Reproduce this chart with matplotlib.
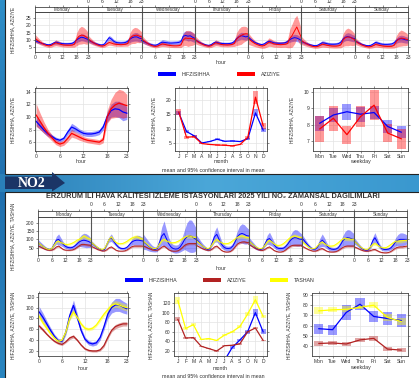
import numpy as np
import matplotlib
matplotlib.use("Agg")
import matplotlib.pyplot as plt
from matplotlib.patches import Rectangle, Polygon

plt.rcParams['font.family'] = ['Liberation Sans', 'DejaVu Sans']

# ---------------- DATA ----------------
days = ["Monday", "Tuesday", "Wednesday", "Thursday", "Friday", "Saturday", "Sunday"]
months = ["J", "F", "M", "A", "M", "J", "J", "A", "S", "O", "N", "D"]
wdays = ["Mon", "Tue", "Wed", "Thu", "Fri", "Sat", "Sun"]
hour_ticks = [0, 6, 12, 18, 23]

# Panel 1 (two stations) - day x hour means
p1_hif = [
    [9.5,8.8,8.2,7.6,7.2,6.8,6.6,7.0,7.8,8.4,8.0,7.6,7.4,7.3,7.3,7.4,7.6,8.5,10.0,11.0,11.8,11.5,10.8,10.2],
    [9.8,9.0,8.2,7.5,7.0,6.6,6.5,7.2,9.5,11.5,10.5,9.0,8.2,8.0,7.9,8.0,8.2,9.0,10.5,11.5,12.0,12.0,11.2,10.8],
    [9.5,8.8,8.0,7.3,6.8,6.4,6.3,6.8,7.8,8.4,8.2,8.0,7.8,7.8,7.9,8.0,8.2,8.8,12.5,13.0,12.5,12.8,11.8,11.0],
    [10.2,9.2,8.3,7.5,6.9,6.4,6.2,6.7,7.8,8.4,8.0,7.6,7.5,7.4,7.4,7.5,7.8,8.8,10.8,12.0,12.8,12.5,12.0,12.5],
    [12.0,10.5,9.2,8.2,7.5,7.0,6.8,7.3,8.4,9.0,8.6,8.0,7.8,7.7,7.7,7.8,8.0,8.8,10.2,11.0,11.5,11.2,10.5,9.5],
    [9.0,8.2,7.6,7.0,6.5,6.2,6.0,6.3,7.2,8.0,7.8,7.4,7.1,7.0,7.0,7.1,7.4,8.4,10.5,11.8,12.2,11.8,11.2,10.8],
    [9.5,8.6,7.8,7.0,6.5,6.1,6.0,6.3,7.2,8.2,7.8,7.3,7.0,6.9,6.9,7.0,7.2,8.0,9.5,10.5,10.8,10.5,10.0,9.8],
]
p1_azi = [
    [11.0,9.8,8.6,7.6,6.8,6.2,5.9,6.2,7.2,8.0,7.5,7.0,6.6,6.4,6.3,6.3,6.4,7.0,10.5,12.5,13.2,13.0,12.0,11.0],
    [10.5,9.3,8.2,7.3,6.6,6.0,5.8,6.1,7.2,8.2,7.8,7.2,6.9,6.8,6.7,6.8,7.0,7.5,11.0,12.5,13.0,13.2,12.5,12.0],
    [10.8,9.4,8.2,7.2,6.4,5.8,5.5,5.8,6.6,7.2,6.9,6.5,6.2,6.0,5.9,5.9,6.0,6.5,10.0,11.2,11.0,11.0,10.8,10.5],
    [10.2,9.0,8.0,7.2,6.5,6.0,5.7,6.0,7.0,8.0,7.6,7.0,6.7,6.6,6.5,6.6,6.8,7.5,10.5,12.0,13.0,13.8,14.2,14.0],
    [11.0,9.6,8.4,7.4,6.7,6.1,5.8,6.1,7.2,8.5,8.0,7.3,7.0,6.8,6.7,6.8,7.0,7.5,11.0,13.0,16.0,18.8,15.0,11.5],
    [9.5,8.4,7.4,6.6,6.0,5.5,5.3,5.5,6.2,7.0,6.7,6.3,6.0,5.8,5.7,5.7,5.9,6.5,10.0,11.5,12.0,11.8,11.0,10.2],
    [9.5,8.4,7.4,6.6,6.0,5.5,5.2,5.4,6.0,6.8,6.5,6.1,5.8,5.6,5.5,5.5,5.6,6.2,9.0,10.5,11.2,11.0,10.5,10.0],
]
p1_hif_ci = [1.2,1.0,0.9,0.8,0.8,0.7,0.7,0.8,1.0,1.3,1.2,1.1,1.0,1.0,1.0,1.0,1.1,1.3,1.8,2.2,2.4,2.4,2.2,2.0]
p1_azi_ci = [2.5,2.0,1.6,1.3,1.1,1.0,1.0,1.1,1.4,1.8,1.6,1.4,1.3,1.2,1.2,1.2,1.3,1.8,4.0,5.0,5.5,5.0,4.5,3.5]
p1_hif_dayci = [1.0, 1.2, 1.4, 1.0, 1.0, 1.1, 1.0]
p1_azi_dayci = [1.1, 1.0, 1.0, 1.1, 1.6, 1.1, 1.0]

p1_hour_hif = [9.3,8.6,7.9,7.3,6.9,6.5,6.3,6.6,7.6,8.4,8.1,7.7,7.4,7.3,7.3,7.4,7.6,8.4,10.0,11.0,11.3,11.2,10.8,10.6]
p1_hour_azi = [10.3,9.3,8.3,7.4,6.7,6.0,5.7,5.9,6.6,7.4,7.1,6.8,6.5,6.3,6.2,6.1,6.0,6.4,10.0,11.3,11.9,12.2,12.0,11.8]
p1_hour_hif_ci = [0.7,0.6,0.5,0.4,0.3,0.3,0.3,0.3,0.4,0.6,0.5,0.4,0.4,0.4,0.4,0.4,0.4,0.5,0.8,1.0,1.2,1.3,1.4,1.0]
p1_hour_azi_ci = [1.8,1.3,0.9,0.6,0.5,0.4,0.4,0.4,0.5,0.6,0.5,0.5,0.4,0.4,0.4,0.4,0.4,0.5,1.0,1.5,2.0,2.2,2.2,1.8]

p1_month_hif = [15.5, 9.0, 7.5, 5.0, 5.5, 6.3, 5.6, 5.7, 5.5, 6.5, 15.5, 9.5]
p1_month_azi = [15.8, 7.0, 7.2, 4.8, 4.5, 4.3, 4.2, 4.0, 4.5, 7.0, 21.0, 11.0]
p1_month_hif_ci = [0.8, 0.4, 0.4, 0.2, 0.2, 0.3, 0.2, 0.2, 0.2, 0.4, 1.2, 0.7]
p1_month_azi_ci = [1.2, 0.5, 0.5, 0.3, 0.3, 0.3, 0.3, 0.3, 0.3, 0.6, 2.3, 1.0]

p1_wday_hif = [8.1, 8.6, 8.8, 8.65, 8.75, 7.9, 7.55]
p1_wday_azi = [7.75, 8.4, 7.4, 8.5, 9.2, 7.5, 7.15]
p1_wday_hif_ci = [0.45, 0.45, 0.5, 0.45, 0.42, 0.42, 0.35]
p1_wday_azi_ci = [0.8, 0.75, 0.55, 0.65, 0.9, 0.55, 0.6]

# Panel 2 (three stations, NO2)
p2_hif = [
    [80,70,60,50,43,40,45,70,95,100,85,70,58,52,50,52,60,72,85,92,95,92,88,80],
    [82,72,60,50,42,36,40,70,100,110,90,70,55,47,45,47,55,70,85,92,95,95,92,90],
    [85,75,63,52,44,40,45,80,120,135,105,75,55,45,42,44,55,75,100,115,120,118,108,100],
    [100,88,72,58,48,40,45,80,115,130,100,72,55,47,45,48,60,85,115,130,135,130,122,120],
    [90,78,65,52,44,40,44,72,98,105,88,68,52,46,45,47,56,72,92,105,110,108,102,100],
    [110,95,78,62,50,42,42,55,80,95,82,62,48,42,40,42,50,68,92,105,110,108,102,100],
    [90,78,63,50,40,35,36,55,90,110,85,60,45,40,40,42,50,65,85,95,100,100,100,100],
]
p2_tas = [
    [80,70,60,50,43,40,45,65,85,90,82,75,70,70,72,78,85,95,100,110,120,112,105,100],
    [85,74,62,52,44,40,45,70,100,115,95,82,75,74,76,82,90,100,108,113,115,110,104,100],
    [90,78,66,55,47,45,50,72,92,100,92,85,80,80,82,88,95,105,112,118,120,116,112,110],
    [95,82,70,58,50,45,50,70,90,100,90,80,75,74,76,82,92,102,112,118,120,116,112,110],
    [90,78,66,56,48,45,48,65,85,95,85,72,65,64,66,74,85,98,110,117,120,116,112,110],
    [90,78,66,55,48,45,48,62,78,85,75,65,60,60,62,70,80,92,102,105,104,102,100,100],
    [90,78,64,52,44,40,42,55,70,75,68,58,50,50,52,60,70,80,88,90,90,92,94,95],
]
p2_azi = [
    [60,55,48,42,37,35,36,42,55,60,50,40,36,35,35,37,42,52,62,70,70,68,66,65],
    [60,54,47,40,35,31,31,38,50,55,46,36,31,30,30,32,38,48,57,60,60,60,60,60],
    [60,55,48,42,37,35,35,42,54,60,50,38,32,30,30,32,40,52,65,72,75,75,75,75],
    [65,58,50,43,38,35,35,42,55,60,48,35,28,25,25,28,38,55,72,80,84,85,82,80],
    [70,62,53,45,39,35,34,40,50,55,45,34,28,25,25,28,36,48,58,64,65,65,65,65],
    [60,54,46,39,34,30,30,34,42,45,38,30,26,25,25,27,33,42,52,58,60,60,60,60],
    [55,50,43,37,32,30,30,33,38,40,33,26,22,20,20,22,28,38,48,53,55,55,58,60],
]
p2_hif_ci = [15,12,10,8,6,5,6,10,18,25,18,12,9,8,8,8,10,14,20,28,32,32,28,22]
p2_tas_ci = [8,7,6,5,4,4,4,6,8,10,8,7,6,6,6,7,8,9,10,11,12,11,10,9]
p2_azi_ci = [6,5,4,4,3,3,3,4,5,6,5,4,3,3,3,3,4,5,6,7,7,7,7,6]
p2_hif_dayci = [1.3, 0.9, 3.0, 1.8, 1.5, 1.5, 1.2]
p2_tas_dayci = [1.0, 1.0, 1.0, 1.0, 1.0, 1.0, 1.0]
p2_azi_dayci = [1.0, 1.0, 1.0, 1.0, 1.0, 1.0, 1.0]

p2_hour_hif = [92,82,70,58,47,39,38,55,85,104,82,58,42,35,33,35,45,65,88,100,105,105,101,98]
p2_hour_tas = [84,72,62,52,44,38,40,55,80,92,82,70,62,60,62,68,78,88,96,104,107,105,102,100]
p2_hour_azi = [66,59,51,44,38,34,32,37,44,47,40,31,24,21,20,20,22,30,45,58,65,68,70,70]
p2_hour_hif_ci = [10,8,6,5,4,4,4,5,8,10,7,5,4,4,4,4,5,6,8,10,12,12,11,10]
p2_hour_tas_ci = [5,4,4,3,3,3,3,3,4,6,4,3,3,3,3,3,4,4,5,6,6,6,6,6]
p2_hour_azi_ci = [3,3,2,2,2,2,2,2,3,3,2,2,2,2,2,2,2,3,3,3,4,4,4,4]

p2_month_hif = [np.nan]*6 + [0, 27, 43, 60, 100, 60]
p2_month_tas = [125, 67, 75, 44, 46, 42, 53, 60, 71, 97, 127, 92]
p2_month_azi = [86, 47, 48, 30, 25, 20, 31, 32, 35, 60, 68, 42]
p2_month_hif_ci = [np.nan]*6 + [2, 3, 3, 4, 8, 5]
p2_month_tas_ci = [7, 3, 3, 2, 2, 2, 2, 2, 3, 4, 8, 4]
p2_month_azi_ci = [4, 2, 2, 1.5, 1.5, 1.5, 1.5, 1.5, 2, 2.5, 3, 2]

p2_wday_hif = [57, 56, 73, 81, 69, 67, 65]
p2_wday_tas = [74.5, 75.5, 76, 78, 80, 68, 64]
p2_wday_azi = [42.5, 43, 42, 46, 47.5, 37, 36]
p2_wday_hif_ci = [5, 5, 7.5, 6, 5, 6.5, 6]
p2_wday_tas_ci = [3.5, 2.5, 3, 2, 3, 3.5, 3]
p2_wday_azi_ci = [2.2, 2.2, 2, 2, 2.2, 2, 1.8]

names1 = ["HIFZISIHHA", "AZIZIYE"]
names2 = ["HIFZISIHHA", "AZIZIYE", "TASHAN"]
col1 = {"HIFZISIHHA": "#0000FF", "AZIZIYE": "#FF0000"}
col2 = {"HIFZISIHHA": "#0000FF", "AZIZIYE": "#B22222", "TASHAN": "#FFFF00"}

# ---------------- FIGURE ----------------
W, H = 419, 378
fig = plt.figure(figsize=(W / 100, H / 100), dpi=100)
fig.patch.set_facecolor('#2b7fb8')

def rect(x0, y0, x1, y1):
    return [x0 / W, 1 - y1 / H, (x1 - x0) / W, (y1 - y0) / H]

# background
bg = fig.add_axes([0, 0, 1, 1], zorder=-10)
bg.set_xlim(0, W); bg.set_ylim(H, 0); bg.axis('off')
grad = np.linspace(0, 1, 256).reshape(-1, 1)
bg.imshow(grad, extent=[0, W, H, 0], cmap=matplotlib.colors.LinearSegmentedColormap.from_list(
    'b', ['#2f8fc8', '#1f6fae', '#2a86c0']), aspect='auto')
bg.imshow(np.linspace(0, 1, 256).reshape(1, -1), extent=[0, W, 192, 174],
          cmap=matplotlib.colors.LinearSegmentedColormap.from_list('b2', ['#2a7fb8', '#4ba7d8', '#3a98cf']),
          aspect='auto')
bg.add_patch(Rectangle((5, -2), W, 176, facecolor='white', edgecolor='#222222', lw=0.8))
bg.add_patch(Rectangle((5, 192), W, 190, facecolor='white', edgecolor='#222222', lw=0.8))
bg.add_patch(Polygon([(5, 176.5), (52, 176.5), (52, 172), (65, 183), (52, 191.5), (52, 189), (5, 189)],
                     closed=True, facecolor='#1b3566', edgecolor='none'))
bg.text(32, 183.5, "NO2", color='white', fontsize=10, fontweight='bold',
        family=['Liberation Serif', 'DejaVu Serif'], ha='center', va='center')
bg.set_xlim(0, W); bg.set_ylim(H, 0)

SP = '#444444'
FS = 3.6

def style(ax):
    for s in ax.spines.values():
        s.set_color(SP); s.set_linewidth(0.6)
    ax.tick_params(axis='both', which='both', labelsize=FS, length=1.5, width=0.4,
                   pad=1, colors='#333333', direction='out')
    ax.tick_params(top=True, right=True)
    ax.set_facecolor('white')

def grid(ax, xs, ys):
    for x in xs:
        ax.axvline(x, color='#e3e3e3', lw=0.5, zorder=0)
    for y in ys:
        ax.axhline(y, color='#e3e3e3', lw=0.5, zorder=0)

def timeseries(box, sbox, data, ci, dayci, cols, names, ylim, yticks):
    ax = fig.add_axes(rect(*box))
    style(ax)
    for n in names:
        for d in range(7):
            x = d * 23 + np.arange(24)
            y = np.array(data[n][d], float)
            h = np.array(ci[n], float) * dayci[n][d]
            ax.fill_between(x, y - h, y + h, color=cols[n], alpha=0.4, lw=0)
    for n in names:
        for d in range(7):
            x = d * 23 + np.arange(24)
            ax.plot(x, data[n][d], color=cols[n], lw=0.7)
    for d in range(7):
        for hh in (6, 12, 18):
            ax.axvline(d * 23 + hh, color='#e3e3e3', lw=0.5, zorder=0)
    for yv in yticks:
        ax.axhline(yv, color='#e3e3e3', lw=0.5, zorder=0)
    for d in range(1, 7):
        ax.axvline(d * 23, color='#555555', lw=0.8, zorder=5)
    ax.set_xlim(0, 161)
    ax.set_ylim(*ylim)
    ax.set_yticks(yticks)
    ax.set_yticklabels([str(v) for v in yticks])
    pos, lab = [], []
    for d in range(7):
        for hh in hour_ticks:
            p = d * 23 + hh
            if p in pos:
                if d % 2 == 0:
                    lab[pos.index(p)] = str(hh)
                continue
            pos.append(p); lab.append(str(hh) if d % 2 == 0 else '')
    ax.set_xticks(pos); ax.set_xticklabels(lab)
    ax.tick_params(top=False)
    # strip
    st = fig.add_axes(rect(*sbox))
    style(st)
    st.set_xlim(0, 161); st.set_ylim(0, 1)
    st.set_yticks([])
    tpos, tlab = [], []
    for d in range(7):
        for hh in hour_ticks:
            p = d * 23 + hh
            if p in tpos:
                if d % 2 == 1:
                    tlab[tpos.index(p)] = str(hh)
                continue
            tpos.append(p); tlab.append(str(hh) if d % 2 == 1 else '')
    st.set_xticks(tpos); st.set_xticklabels(tlab)
    st.tick_params(bottom=False, labelbottom=False, top=True, labeltop=True, right=False)
    for d in range(7):
        st.text(d * 23 + 11.5, 0.45, days[d], fontsize=3.3, ha='center', va='center', color='#333333')
    for d in range(1, 7):
        st.axvline(d * 23, color='#555555', lw=0.8)
    return ax

def hourplot(box, means, cis, cols, names, ylim, yticks):
    ax = fig.add_axes(rect(*box))
    style(ax)
    x = np.arange(24)
    grid(ax, [0, 6, 12, 18], yticks)
    for n in names:
        m = np.array(means[n], float); c = np.array(cis[n], float)
        ax.fill_between(x, m - c, m + c, color=cols[n], alpha=0.4, lw=0)
    for n in names:
        ax.plot(x, means[n], color=cols[n], lw=0.9)
    ax.set_xlim(-0.3, 23.3); ax.set_ylim(*ylim)
    ax.set_xticks(hour_ticks); ax.set_xticklabels([str(h) for h in hour_ticks])
    ax.set_yticks(yticks); ax.set_yticklabels([str(v) for v in yticks])
    return ax

def catplot(box, labels, means, cis, cols, names, ylim, yticks):
    ax = fig.add_axes(rect(*box))
    style(ax)
    k = len(labels)
    x = np.arange(1, k + 1)
    grid(ax, x, yticks)
    for n in names:
        m = np.array(means[n], float); c = np.array(cis[n], float)
        for xi, mi, ci in zip(x, m, c):
            if np.isnan(mi):
                continue
            ax.add_patch(Rectangle((xi - 0.33, mi - ci), 0.66, 2 * ci, facecolor=cols[n],
                                   alpha=0.4, edgecolor='none'))
    for n in names:
        ax.plot(x, means[n], color=cols[n], lw=0.9)
    ax.set_xlim(0.5, k + 0.5); ax.set_ylim(*ylim)
    ax.set_xticks(x); ax.set_xticklabels(labels)
    ax.set_yticks(yticks); ax.set_yticklabels([str(v) for v in yticks])
    return ax

def legend(y, items):
    for (x0, name, col) in items:
        bg.add_patch(Rectangle((x0, y - 1.8), 18, 3.6, facecolor=col, edgecolor='none'))
        bg.text(x0 + 24, y, name, fontsize=3.8, va='center', ha='left', color='#333333')

def ylab(x, y, s):
    bg.text(x, y, s, rotation=90, fontsize=3.4, ha='center', va='center', color='#333333')

# ---- Panel 1 ----
d1 = {"HIFZISIHHA": p1_hif, "AZIZIYE": p1_azi}
c1 = {"HIFZISIHHA": p1_hif_ci, "AZIZIYE": p1_azi_ci}
dc1 = {"HIFZISIHHA": p1_hif_dayci, "AZIZIYE": p1_azi_dayci}
timeseries((35, 12, 408, 52), (35, 7, 408, 12), d1, c1, dc1, col1, names1, (1.7, 29), [5, 10, 15, 20, 25])
bg.text(221, 63, "hour", fontsize=3.8, ha='center', va='center', color='#333333')
legend(74, [(158, "HIFZISIHHA", col1["HIFZISIHHA"]), (237, "AZIZIYE", col1["AZIZIYE"])])
ylab(13, 30, "HIFZISIHHA, AZIZIYE")

hourplot((35, 88, 128, 151), {"HIFZISIHHA": p1_hour_hif, "AZIZIYE": p1_hour_azi},
         {"HIFZISIHHA": p1_hour_hif_ci, "AZIZIYE": p1_hour_azi_ci}, col1, names1,
         (4.6, 14.6), [6, 8, 10, 12, 14])
catplot((175, 88, 267, 151), months, {"HIFZISIHHA": p1_month_hif, "AZIZIYE": p1_month_azi},
        {"HIFZISIHHA": p1_month_hif_ci, "AZIZIYE": p1_month_azi_ci}, col1, names1,
        (2.2, 24.2), [5, 10, 15, 20])
catplot((313, 88, 408, 151), wdays, {"HIFZISIHHA": p1_wday_hif, "AZIZIYE": p1_wday_azi},
        {"HIFZISIHHA": p1_wday_hif_ci, "AZIZIYE": p1_wday_azi_ci}, col1, names1,
        (6.4, 10.25), [7, 8, 9, 10])
for x, s in [(81, "hour"), (221, "month"), (360, "weekday")]:
    bg.text(x, 161.5, s, fontsize=3.8, ha='center', va='center', color='#333333')
bg.text(213, 170, "mean and 95% confidence interval in mean", fontsize=3.8, ha='center', va='center', color='#333333')
ylab(13, 120, "HIFZISIHHA, AZIZIYE")
ylab(154, 120, "HIFZISIHHA, AZIZIYE")
ylab(292, 120, "HIFZISIHHA, AZIZIYE")

# ---- Panel 2 ----
bg.text(213, 197, "ERZURUM ILI HAVA KALITESI IZLEME ISTASYONLARI 2025 YILI NO\u2082 ZAMANSAL DAGILIMLARI",
        fontsize=5.3, fontweight='bold', ha='center', va='center', color='#333333')
d2 = {"HIFZISIHHA": p2_hif, "AZIZIYE": p2_azi, "TASHAN": p2_tas}
c2 = {"HIFZISIHHA": p2_hif_ci, "AZIZIYE": p2_azi_ci, "TASHAN": p2_tas_ci}
dc2 = {"HIFZISIHHA": p2_hif_dayci, "AZIZIYE": p2_azi_dayci, "TASHAN": p2_tas_dayci}
timeseries((38, 217, 407, 255), (38, 210.5, 407, 217), d2, c2, dc2, col2, names2, (7, 233), [50, 100, 150, 200])
bg.text(221, 268, "hour", fontsize=3.8, ha='center', va='center', color='#333333')
legend(280, [(125, "HIFZISIHHA", col2["HIFZISIHHA"]), (203, "AZIZIYE", col2["AZIZIYE"]),
             (270, "TASHAN", col2["TASHAN"])])
ylab(13, 236, "HIFZISIHHA, AZIZIYE, TASHAN")

hourplot((38, 293, 128, 356), {"HIFZISIHHA": p2_hour_hif, "AZIZIYE": p2_hour_azi, "TASHAN": p2_hour_tas},
         {"HIFZISIHHA": p2_hour_hif_ci, "AZIZIYE": p2_hour_azi_ci, "TASHAN": p2_hour_tas_ci},
         col2, ["HIFZISIHHA", "TASHAN", "AZIZIYE"], (10.7, 127), [20, 40, 60, 80, 100, 120])
catplot((174, 293, 267, 356), months, {"HIFZISIHHA": p2_month_hif, "AZIZIYE": p2_month_azi, "TASHAN": p2_month_tas},
        {"HIFZISIHHA": p2_month_hif_ci, "AZIZIYE": p2_month_azi_ci, "TASHAN": p2_month_tas_ci},
        col2, names2, (9.6, 141), [20, 40, 60, 80, 100, 120])
catplot((312, 293, 408, 356), wdays, {"HIFZISIHHA": p2_wday_hif, "AZIZIYE": p2_wday_azi, "TASHAN": p2_wday_tas},
        {"HIFZISIHHA": p2_wday_hif_ci, "AZIZIYE": p2_wday_azi_ci, "TASHAN": p2_wday_tas_ci},
        col2, names2, (30.2, 92), [40, 50, 60, 70, 80, 90])
for x, s in [(83, "hour"), (220, "month"), (360, "weekday")]:
    bg.text(x, 368, s, fontsize=3.8, ha='center', va='center', color='#333333')
bg.text(213, 376, "mean and 95% confidence interval in mean", fontsize=3.8, ha='center', va='center', color='#333333')
ylab(13, 325, "HIFZISIHHA, AZIZIYE, TASHAN")
ylab(151, 325, "HIFZISIHHA, AZIZIYE, TASHAN")
ylab(289, 325, "HIFZISIHHA, AZIZIYE, TASHAN")

fig.savefig("out.png", dpi=100, facecolor=fig.get_facecolor())
